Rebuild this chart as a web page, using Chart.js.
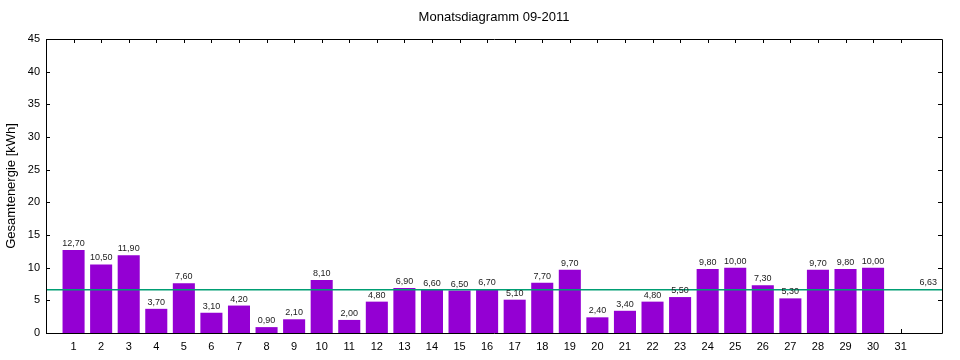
<!DOCTYPE html>
<html>
<head>
<meta charset="utf-8">
<title>Monatsdiagramm 09-2011</title>
<script src="https://cdn.jsdelivr.net/npm/chart.js@4"></script>
<style>
  body { margin: 0; background: #fff; }
  #wrap { width: 960px; height: 360px; }
</style>
</head>
<body>
<div id="wrap"><canvas id="monthChart"></canvas></div>
<script>
// Tageswerte September 2011 (kWh), Tag 31 gibt es nicht
const days = [1, 2, 3, 4, 5, 6, 7, 8, 9, 10, 11, 12, 13, 14, 15, 16, 17, 18, 19, 20,
  21, 22, 23, 24, 25, 26, 27, 28, 29, 30, 31];
const energy = [12.7, 10.5, 11.9, 3.7, 7.6, 3.1, 4.2, 0.9, 2.1, 8.1,
  2.0, 4.8, 6.9, 6.6, 6.5, 6.7, 5.1, 7.7, 9.7, 2.4,
  3.4, 4.8, 5.5, 9.8, 10.0, 7.3, 5.3, 9.7, 9.8, 10.0];
const average = 6.63;
const yTicks = [0, 5, 10, 15, 20, 25, 30, 35, 40, 45];

const PURPLE = "#9400d3";
const GREEN = "#009e73";
const FONT = "'Liberation Sans', Arial, sans-serif";

function fmt(v) {
  return v.toFixed(2).replace(".", ",");
}

// ========== gnuplot-artiger Rahmen ==========
const frame = {
  id: "frame",
  afterLayout(chart) {
    // Titel ueber dem Plotbereich zentrieren
    const t = chart.titleBlock;
    if (t) {
      t.left = chart.chartArea.left;
      t.right = chart.chartArea.right;
      t.width = t.right - t.left;
    }
  },
  beforeDatasetsDraw(chart) {
    const { ctx, chartArea: a, scales: { x } } = chart;
    ctx.save();
    ctx.strokeStyle = "#000";
    ctx.lineWidth = 1;
    ctx.beginPath();
    days.forEach(d => {
      const px = Math.round(x.getPixelForValue(d)) + 0.5;
      ctx.moveTo(px, a.bottom);
      ctx.lineTo(px, a.bottom - 4);
    });
    ctx.stroke();
    ctx.restore();
  },
  afterDatasetsDraw(chart) {
    const { ctx, chartArea: a, scales: { x, y } } = chart;
    ctx.save();
    ctx.strokeStyle = "#000";
    ctx.lineWidth = 1;
    ctx.beginPath();
    ctx.rect(Math.round(a.left) + 0.5, Math.round(a.top) + 0.5,
      Math.round(a.right - a.left), Math.round(a.bottom - a.top));
    days.forEach(d => {
      const px = Math.round(x.getPixelForValue(d)) + 0.5;
      ctx.moveTo(px, a.top);
      ctx.lineTo(px, a.top + 4);
    });
    yTicks.forEach(v => {
      const py = Math.round(y.getPixelForValue(v)) + 0.5;
      ctx.moveTo(a.left, py);
      ctx.lineTo(a.left + 4, py);
      ctx.moveTo(a.right, py);
      ctx.lineTo(a.right - 4, py);
    });
    ctx.stroke();

    // Werte ueber den Balken
    ctx.fillStyle = "#222";
    ctx.font = "9px " + FONT;
    ctx.textAlign = "center";
    ctx.textBaseline = "bottom";
    energy.forEach((v, i) => {
      ctx.fillText(fmt(v), x.getPixelForValue(days[i]), y.getPixelForValue(v) - 2);
    });
    // Mittelwert rechts
    ctx.fillText(fmt(average), x.getPixelForValue(32), y.getPixelForValue(average) - 3);
    ctx.restore();
  }
};

function renderChart() {
  const ctx = document.getElementById("monthChart");

  new Chart(ctx, {
    type: "bar",
    data: {
      datasets: [
        {
          type: "line",
          label: "Mittelwert",
          data: [{ x: 0, y: average }, { x: 32.5, y: average }],
          borderColor: GREEN,
          borderWidth: 1.5,
          pointRadius: 0,
          order: 0,
        },
        {
          label: "Gesamtenergie",
          data: energy.map((v, i) => ({ x: days[i], y: v })),
          backgroundColor: PURPLE,
          categoryPercentage: 0.8,
          barPercentage: 1,
          order: 1,
        },
      ],
    },
    options: {
      responsive: true,
      maintainAspectRatio: false,
      animation: false,
      layout: { padding: { left: 0, right: 18, top: 0, bottom: 0 } },
      plugins: {
        legend: { display: false },
        tooltip: { enabled: false },
        title: {
          display: true,
          text: "Monatsdiagramm 09-2011",
          color: "#000",
          font: { family: FONT, size: 13, weight: "normal" },
          padding: { top: 10, bottom: 13.4 },
        },
      },
      scales: {
        x: {
          type: "linear",
          min: 0,
          max: 32.5,
          offset: false,
          grid: { display: false, drawTicks: false, offset: false },
          border: { display: false },
          afterBuildTicks: s => { s.ticks = days.map(d => ({ value: d })); },
          afterFit: s => { s.height = 27; },
          ticks: {
            color: "#000",
            font: { family: FONT, size: 11 },
            padding: 7,
            autoSkip: false,
            maxRotation: 0,
            callback: v => String(v),
          },
        },
        y: {
          min: 0,
          max: 45,
          grid: { display: false, drawTicks: false },
          border: { display: false },
          afterBuildTicks: s => { s.ticks = yTicks.map(v => ({ value: v })); },
          afterFit: s => { s.width = 46; },
          ticks: {
            color: "#000",
            font: { family: FONT, size: 11 },
            padding: 6,
          },
          title: {
            display: true,
            text: "Gesamtenergie [kWh]",
            color: "#000",
            font: { family: FONT, size: 13 },
            padding: { top: 4, bottom: 4 },
          },
        },
      },
    },
    plugins: [frame],
  });
}

window.addEventListener("DOMContentLoaded", renderChart);
</script>
</body>
</html>
